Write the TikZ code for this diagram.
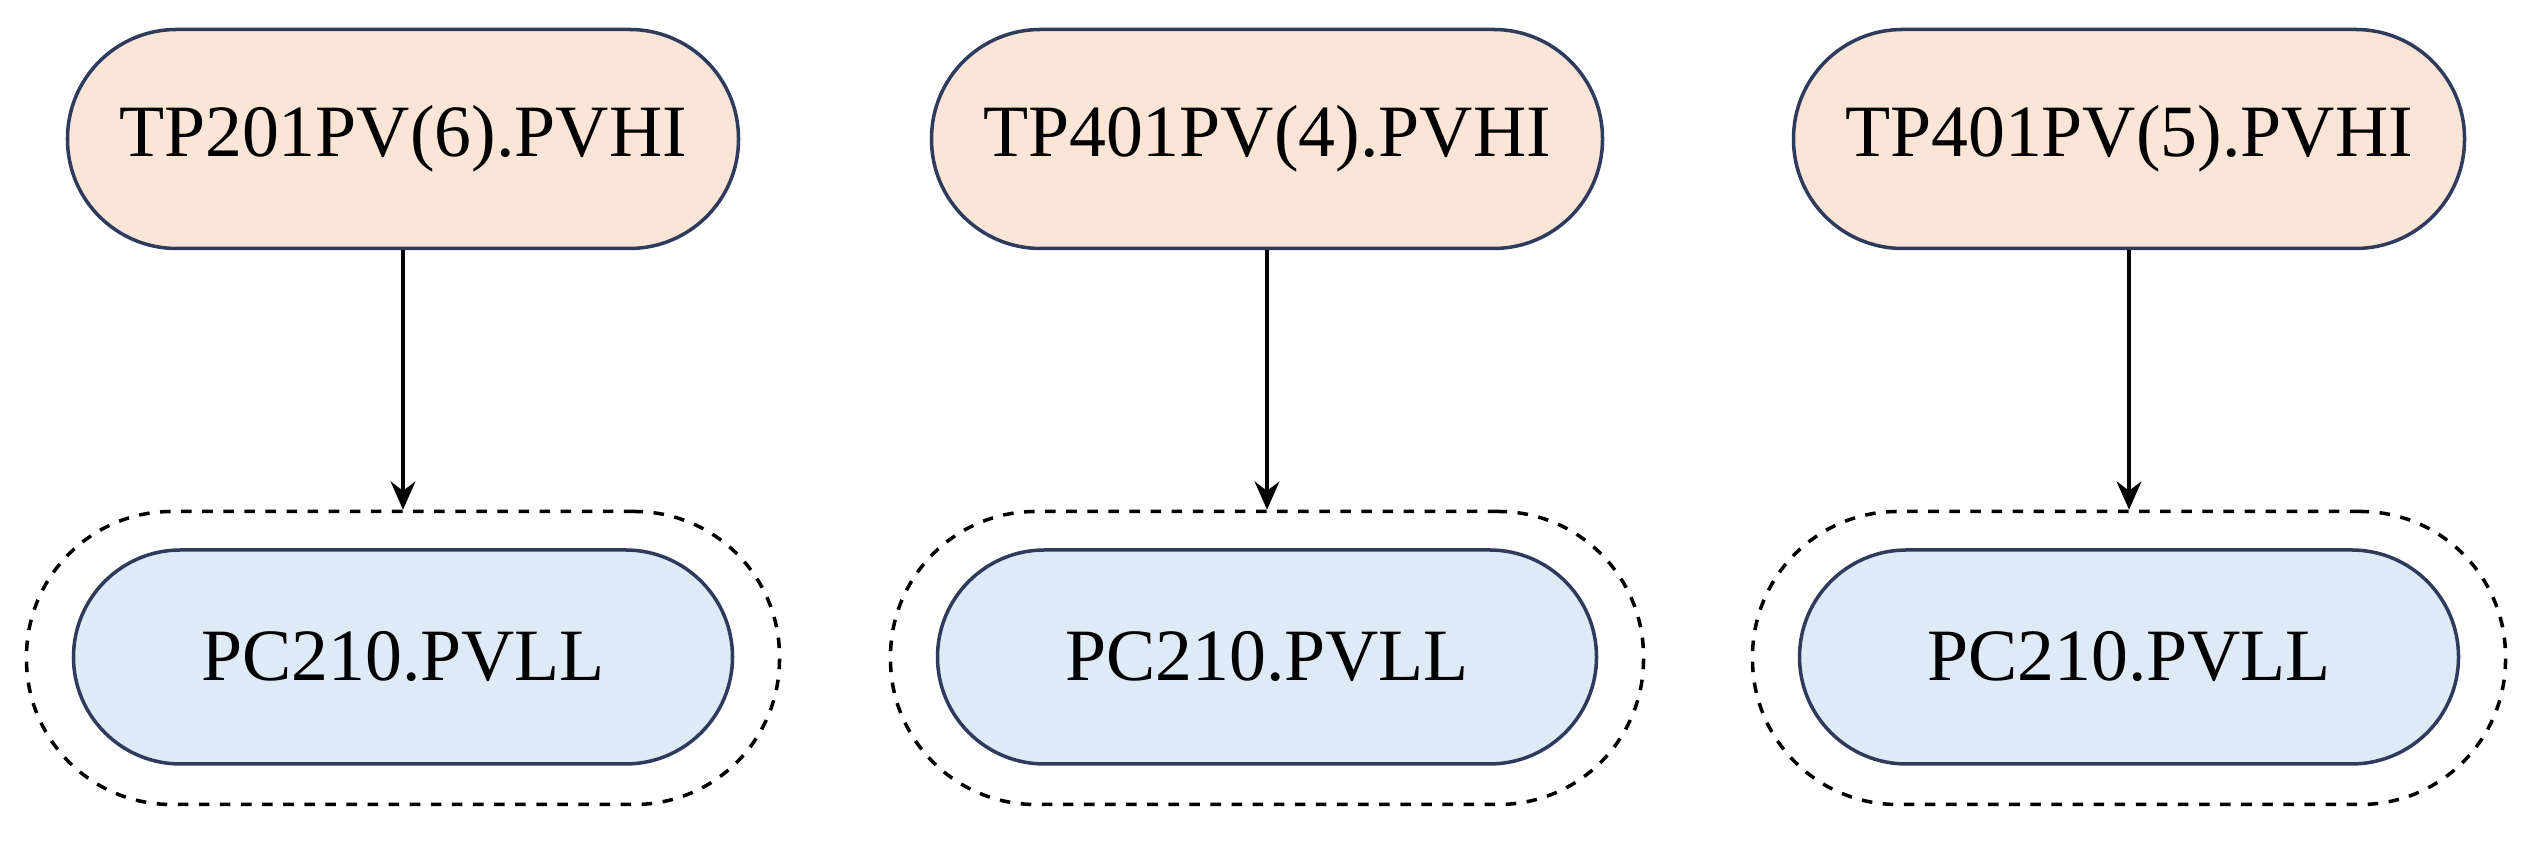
\documentclass[tikz,border=0pt]{standalone}
\usepackage{fontspec}
\setmainfont{Liberation Serif}
\usepackage{tikz}
\usetikzlibrary{arrows.meta, positioning}
\definecolor{peach}{HTML}{FBE5D6}
\definecolor{paleblue}{HTML}{DEEBF7}
\definecolor{navy}{HTML}{2F3B5C}

\begin{document}
\begin{tikzpicture}[
  src/.style={draw=navy, line width=1pt, fill=peach, rounded corners=1.09cm,
              minimum width=6.71cm, minimum height=2.19cm, font=\fontsize{21}{25}\selectfont},
  tgt/.style={draw=navy, line width=1pt, fill=paleblue, rounded corners=1.07cm,
              minimum width=6.59cm, minimum height=2.14cm, font=\fontsize{21}{25}\selectfont},
  group/.style={draw, dashed, line width=1pt, rounded corners=1.45cm,
                minimum width=7.53cm, minimum height=2.93cm},
  arrow/.style={-{Stealth[length=8pt,width=7pt]}, line width=1.2pt},
]
\useasboundingbox (0,0) rectangle (25.41,8.47);

% Sources
\node[src] (hiA) at (4.03,7.08)  {TP201PV(6).PVHI};
\node[src] (hiB) at (12.67,7.08) {TP401PV(4).PVHI};
\node[src] (hiC) at (21.29,7.08) {TP401PV(5).PVHI};

% Cibles
\node[group] (grA) at (4.03,1.89)  {};
\node[group] (grB) at (12.67,1.89) {};
\node[group] (grC) at (21.29,1.89) {};
\node[tgt] (llA) at (4.03,1.90)  {PC210.PVLL};
\node[tgt] (llB) at (12.67,1.90) {PC210.PVLL};
\node[tgt] (llC) at (21.29,1.90) {PC210.PVLL};

% Flèches
\draw[arrow] (hiA) -- (grA);
\draw[arrow] (hiB) -- (grB);
\draw[arrow] (hiC) -- (grC);
\end{tikzpicture}
\end{document}
